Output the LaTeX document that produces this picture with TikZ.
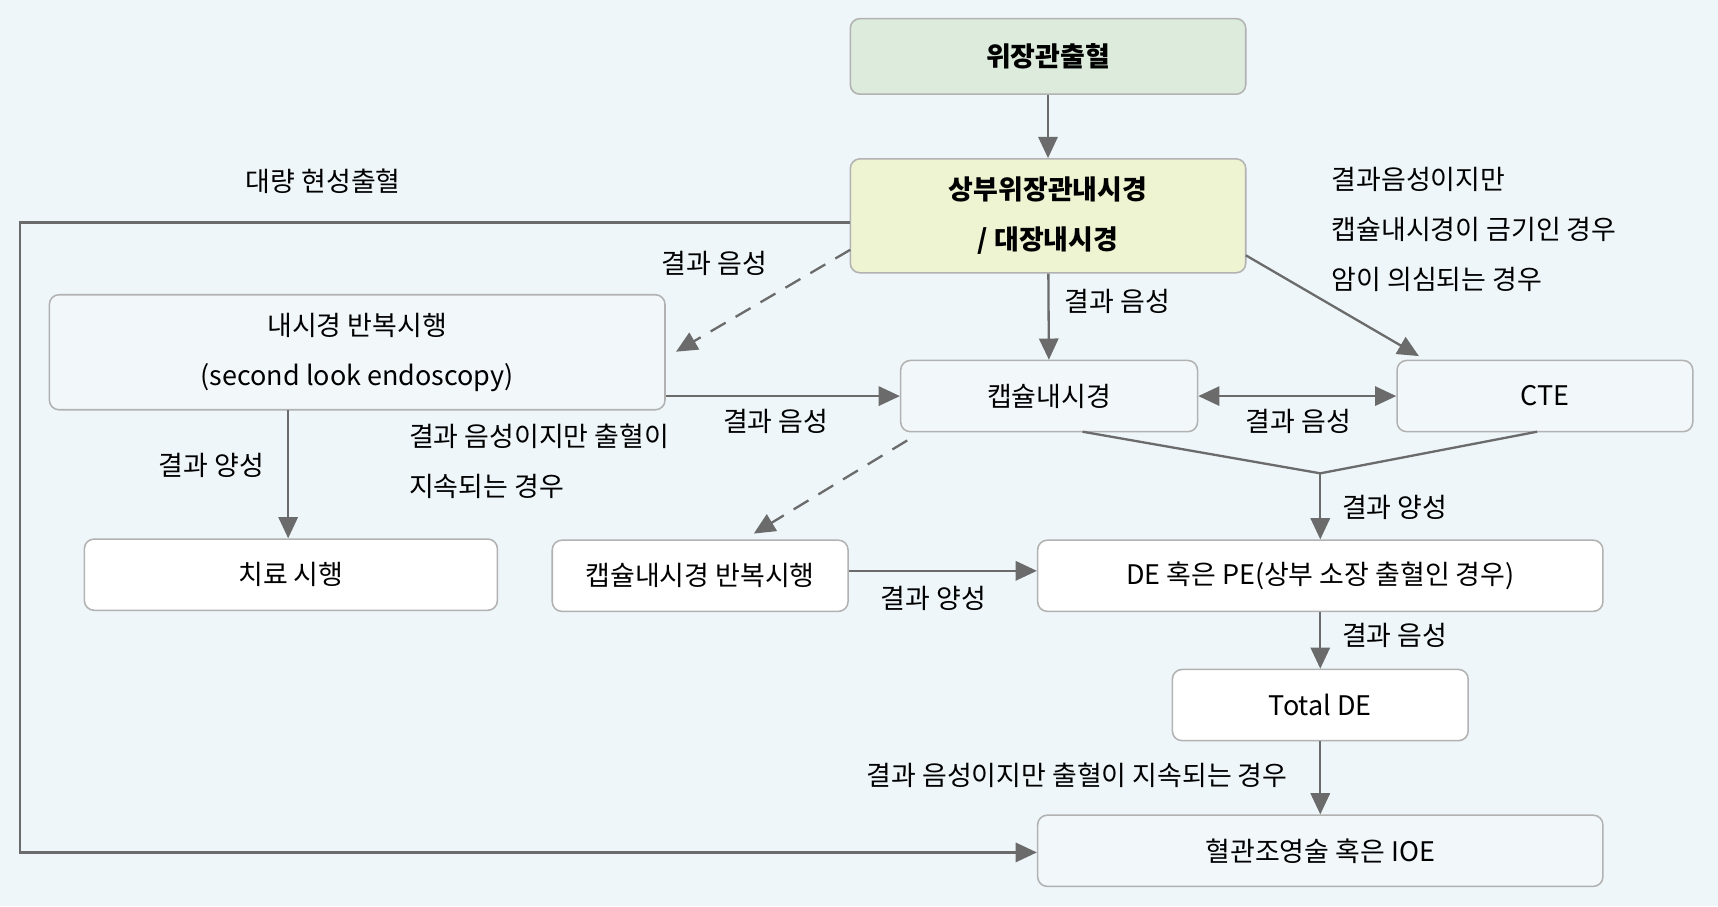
\documentclass[tikz,border=0pt]{standalone}
\usepackage{fontspec}
\setmainfont{Noto Sans CJK KR}
\usetikzlibrary{arrows.meta,positioning}
\definecolor{bgc}{HTML}{EEF6F9}
\definecolor{boxc}{HTML}{F2F8FA}
\definecolor{greenc}{HTML}{DCEBDC}
\definecolor{yelc}{HTML}{EEF3D2}
\definecolor{arrc}{HTML}{6B6B6B}
\tikzset{box/.style={draw=black!30, rounded corners=5pt, fill=boxc, line width=0.8pt, align=center, inner sep=0pt}}
\tikzset{wbox/.style={box, fill=white}}
\tikzset{arr/.style={draw=arrc, line width=1.2pt, -{Triangle[length=11pt,width=10pt]}}}
\tikzset{darr/.style={arr, dashed, dash pattern=on 9pt off 6pt}}
\tikzset{lbl/.style={inner sep=0pt, align=left}}
\begin{document}
\begin{tikzpicture}[x=0.02cm, y=-0.02cm, font=\fontsize{14}{26}\selectfont]
                        \fill[bgc] (0,0) rectangle (1568,827);
                        \useasboundingbox (0,0) rectangle (1568,827);

                        \node[box, fill=greenc, minimum width=7.22cm, minimum height=1.38cm, font=\fontsize{14}{26}\selectfont\bfseries] (gi) at (956.5, 51.5) {위장관출혈};
                        \node[box, fill=yelc, minimum width=7.22cm, minimum height=2.08cm, font=\fontsize{14}{26}\selectfont\bfseries] (egd) at (956.5, 197) {상부위장관내시경\\/ 대장내시경};
                        \node[box, minimum width=11.24cm, minimum height=2.1cm] (rep) at (326, 321.5) {내시경 반복시행\\(second look endoscopy)};
                        \node[box, minimum width=5.42cm, minimum height=1.3cm] (ce) at (957.5, 361.5) {캡슐내시경};
                        \node[box, minimum width=5.4cm, minimum height=1.3cm] (cte) at (1410, 361.5) {CTE};
                        \node[wbox, minimum width=7.54cm, minimum height=1.3cm] (tx) at (265.5, 524.5) {치료 시행};
                        \node[wbox, minimum width=5.4cm, minimum height=1.3cm] (cer) at (639, 525.5) {캡슐내시경 반복시행};
                        \node[wbox, minimum width=10.32cm, minimum height=1.3cm] (de) at (1205, 525.5) {DE 혹은 PE(상부 소장 출혈인 경우)};
                        \node[wbox, minimum width=5.4cm, minimum height=1.3cm] (tde) at (1205, 643.5) {Total DE};
                        \node[box, minimum width=10.32cm, minimum height=1.3cm] (ang) at (1205, 776.5) {혈관조영술 혹은 IOE};
                        \coordinate (mj) at (1205, 432);

                        \draw[arr] (gi) -- (egd);
                        \draw[arr] (egd.west |- 0,203) -- (18,203) -- (18,778) -- (ang.west |- 0,778);
                        \draw[darr] (776,228) -- (617,321);
                        \draw[arr] (egd) -- (ce);
                        \draw[arr] (1137,233) -- (1295,325);
                        \draw[arr] (rep.east |- ce) -- (ce);
                        \draw[arr, {Triangle[length=11pt,width=10pt]}-{Triangle[length=11pt,width=10pt]}] (ce) -- (cte);
                        \draw[arr] (263,374) -- (tx.north -| 263,0);
                        \draw[darr] (828,402) -- (688,487);
                        \draw[draw=arrc, line width=1.2pt] (988,394) -- (mj) -- (1403,394);
                        \draw[arr] (mj) -- (de);
                        \draw[arr] (cer.east |- 0,521) -- (de.west |- 0,521);
                        \draw[arr] (de) -- (tde);
                        \draw[arr] (tde) -- (ang);

                        \node[lbl] (l1) at (295,165) {대량 현성출혈};
                        \node[lbl] (l2) at (652,240) {결과 음성};
                        \node[lbl] (l3) at (1020,275) {결과 음성};
                        \node[lbl, anchor=west] (l4) at (1215,209) {결과음성이지만\\캡슐내시경이 금기인 경우\\암이 의심되는 경우};
                        \node[lbl] (l5) at (708,385) {결과 음성};
                        \node[lbl] (l6) at (1185,385) {결과 음성};
                        \node[lbl] (l7) at (193,425) {결과 양성};
                        \node[lbl, anchor=west] (l8) at (373,421) {결과 음성이지만 출혈이\\지속되는 경우};
                        \node[lbl] (l9) at (1273,463) {결과 양성};
                        \node[lbl] (l10) at (852,546) {결과 양성};
                        \node[lbl] (l11) at (1273,580) {결과 음성};
                        \node[lbl] (l12) at (983,708) {결과 음성이지만 출혈이 지속되는 경우};
                    \end{tikzpicture}
\end{document}
